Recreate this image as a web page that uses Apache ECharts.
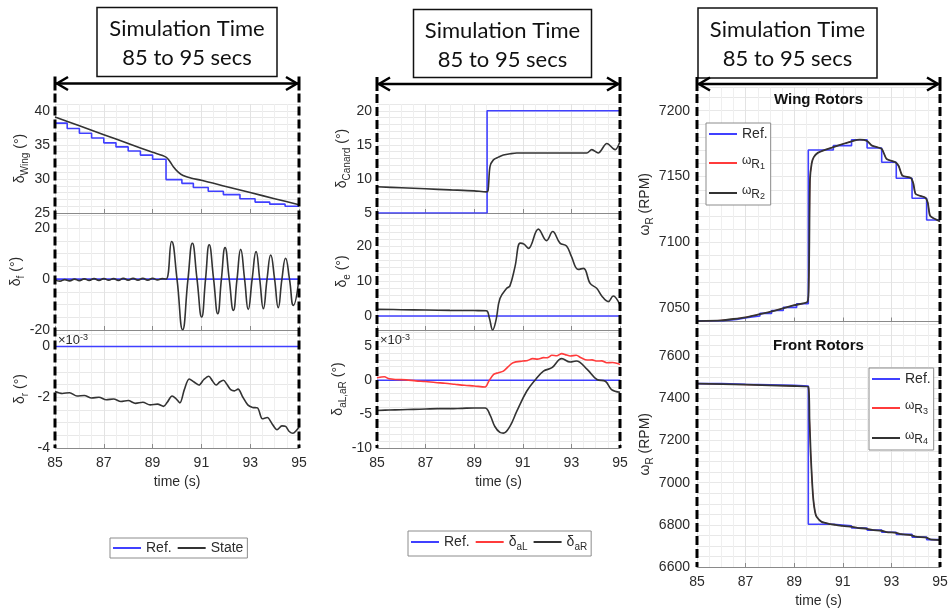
<!DOCTYPE html>
<html><head><meta charset="utf-8">
<script src="https://cdn.jsdelivr.net/npm/echarts@6.0.0/dist/echarts.min.js"></script>
<style>html,body{margin:0;padding:0;background:#fff}#c{width:951px;height:612px}</style>
</head><body><div id="c"></div>
<script>
// ---------------- data (time in s) ----------------
const timeTickLabels = [85, 87, 89, 91, 93, 95];

// Left column
const wingRef = [[85,38.2],[85.5,37.4],[86,36.7],[86.5,36.0],[87,35.3],[87.5,34.7],[88,34.1],[88.5,33.5],[89,32.9],[89.55,29.9],[90.2,29.35],[90.67,28.75],[91.28,28.2],[91.9,27.7],[92.58,27.1],[93.2,26.6],[93.8,26.3],[94.43,26.0],[95,26.0]];
const wingState = [[85,39.1],[86,37.8],[87,36.5],[88,35.2],[89,33.9],[89.55,33.2],[89.7,32.6],[89.85,31.8],[90.05,31.0],[90.25,30.5],[90.6,30.1],[91,29.8],[92,28.9],[93,28.0],[94,27.1],[95,26.2]];
const flapRef = [[85,0],[95,0]];
const flapState = [[85,-0.3],[85.2,-0.8],[85.4,-0.2],[85.6,-0.7],[85.8,0],[86.0,-0.6],[86.2,0.1],[86.4,-0.5],[86.6,0.2],[86.8,-0.5],[87.0,0.2],[87.2,-0.4],[87.4,0.2],[87.6,-0.5],[87.8,0.3],[88.0,-0.4],[88.2,0.3],[88.4,-0.4],[88.6,0.3],[88.8,-0.4],[89.0,0.3],[89.2,-0.3],[89.4,0.2],[89.55,0],
  [89.78,14.8],[90.0,0],[90.23,-19.9],[90.45,0],[90.63,14.1],[90.82,0],[91.01,-14.9],[91.17,0],[91.32,13.5],[91.5,0],[91.67,-13.6],[91.82,0],[91.97,12.4],[92.14,0],[92.31,-12.3],[92.46,0],[92.61,11.7],[92.77,0],[92.92,-11.9],[93.08,0],[93.24,10.8],[93.39,0],[93.54,-11.6],[93.69,0],[93.84,9.5],[94.0,0],[94.15,-11.2],[94.3,0],[94.45,8.2],[94.61,0],[94.77,-10.3],[95,0.3]];
const rudderRef = [[85,0],[95,0]]; // x10^-3
const rudderState = [[85,-1.77],[85.3,-1.85],[85.6,-1.82],[85.9,-1.95],[86.2,-1.93],[86.5,-2.03],[86.8,-2.0],[87.1,-2.1],[87.4,-2.07],[87.7,-2.17],[88.0,-2.13],[88.3,-2.24],[88.6,-2.2],[88.9,-2.3],[89.2,-2.27],[89.45,-2.36],[89.6,-2.2],[89.8,-1.95],[89.95,-2.05],[90.12,-2.22],[90.3,-1.7],[90.5,-1.28],[90.7,-1.4],[90.9,-1.52],[91.1,-1.3],[91.3,-1.17],[91.45,-1.35],[91.6,-1.52],[91.75,-1.4],[91.9,-1.33],[92.05,-1.5],[92.2,-1.7],[92.35,-1.75],[92.5,-1.68],[92.7,-2.0],[92.9,-2.3],[93.1,-2.4],[93.3,-2.42],[93.5,-2.85],[93.7,-2.8],[93.9,-3.05],[94.1,-3.28],[94.3,-3.13],[94.45,-3.15],[94.6,-3.35],[94.75,-3.42],[94.9,-3.3],[95,-3.17]];

// Middle column
const canardRef = [[85,5],[89.53,20],[95,20]];
const canardState = [[85,8.85],[86,8.7],[87,8.55],[88,8.4],[89,8.25],[89.5,8.1],[89.57,8.3],[89.65,11.8],[89.79,12.8],[90.0,13.2],[90.2,13.5],[90.5,13.7],[90.75,13.8],[92,13.8],[93.63,13.8],[93.84,14.3],[94.1,13.8],[94.46,15.2],[94.8,14.3],[95,15.5]];
const elevRef = [[85,0],[95,0]];
const elevState = [[85,1.9],[86,1.8],[87,1.7],[88,1.6],[89,1.55],[89.5,1.5],[89.62,-0.5],[89.76,-4.0],[89.9,-1.1],[90.06,5.0],[90.34,7.9],[90.47,8.6],[90.68,14.1],[90.89,20.8],[91.05,20.5],[91.23,19.3],[91.64,24.8],[91.98,21.5],[92.23,24.1],[92.53,20.8],[92.8,20],[93.0,17],[93.28,13.3],[93.5,13.6],[93.77,9.3],[94.04,7.9],[94.25,5.7],[94.52,4.1],[94.72,5.7],[95,3.1]];
const aileronRef = [[85,0],[95,0]]; // x10^-3
const aileronL = [[85,0.36],[85.3,0.5],[85.5,0.2],[85.8,0.1],[86.2,0.05],[86.6,-0.1],[87,-0.2],[87.4,-0.35],[87.8,-0.45],[88.2,-0.6],[88.6,-0.75],[89,-0.85],[89.45,-1.0],[89.6,-0.15],[89.8,0.85],[90.0,1.1],[90.2,1.34],[90.4,2.0],[90.6,2.58],[91.0,2.82],[91.2,2.9],[91.4,3.18],[91.6,3.1],[91.85,3.33],[92.0,3.3],[92.2,3.67],[92.4,3.6],[92.6,3.92],[92.8,3.7],[92.95,3.57],[93.2,3.67],[93.4,3.3],[93.65,2.97],[93.85,3.0],[94.05,2.82],[94.25,2.85],[94.45,2.58],[94.7,2.6],[95,2.33]];
const aileronR = [[85,-4.46],[85.5,-4.4],[86,-4.35],[86.5,-4.3],[87,-4.25],[87.5,-4.2],[88,-4.2],[88.5,-4.15],[89,-4.1],[89.45,-4.1],[89.65,-5.1],[89.85,-6.83],[90.06,-7.7],[90.2,-7.8],[90.47,-6.8],[90.75,-4.6],[91.16,-1.63],[91.5,0],[91.85,1.34],[92.2,1.84],[92.6,3.18],[92.95,2.68],[93.2,2.82],[93.65,1.59],[94.05,0.1],[94.4,-0.15],[94.65,-1.38],[95,-1.78]];

// Right column (RPM)
const wingRotorRef = [[85,7040.6],[86.08,7041.5],[86.63,7042.8],[87.04,7044.2],[87.59,7046.2],[88.07,7048.3],[88.55,7050.7],[89.1,7053.5],[89.58,7170.2],[90.61,7173.5],[91.36,7178],[92.0,7171.7],[92.6,7160.9],[93.2,7148.7],[93.85,7133.5],[94.45,7117],[95,7117]];
const wingRotorState = [[85,7040.3],[86,7040.9],[86.5,7041.9],[87,7043.2],[87.5,7045.2],[88,7047.3],[88.5,7049.8],[89,7052.4],[89.55,7055],[89.6,7070],[89.62,7097],[89.65,7148],[89.72,7160],[89.8,7164.6],[89.97,7168],[90.3,7170.5],[90.55,7172],[91.1,7175.3],[91.4,7177],[91.7,7178],[92.0,7177],[92.2,7173.5],[92.6,7171],[92.8,7163.4],[93.15,7161],[93.3,7158],[93.45,7150.7],[93.8,7149],[93.9,7145],[94.0,7136.8],[94.4,7134],[94.5,7130],[94.6,7120],[95,7116]];
const frontRotorRef = [[85,7470],[86,7467],[87,7465],[88,7462],[89,7459],[89.58,6803],[90.61,6795],[91.36,6785],[92.0,6775],[92.6,6765],[93.2,6755],[93.85,6742],[94.45,6730],[95,6730]];
const frontRotorState = [[85,7470],[87,7465],[89,7459],[89.58,7455],[89.63,7300],[89.68,7138],[89.74,7000],[89.79,6917],[89.86,6860],[89.93,6837],[90.13,6814],[90.48,6804],[90.7,6800],[91.0,6795],[91.4,6790],[91.6,6786],[92.0,6781],[92.2,6776],[92.6,6772],[92.8,6766],[93.2,6762],[93.4,6756],[93.8,6751],[94.0,6744],[94.45,6739],[94.6,6731],[95,6728]];

// ---------------- styles / layout ----------------
const FF = '"Liberation Sans", Arial, Helvetica, sans-serif';
const HF = 'Lato, "Open Sans", sans-serif';
const C_REF = '#4040ff', C_STATE = '#333333', C_RED = '#ff3b3b', TXT = '#2b2b2b';

const grids = [
  {left:55, top:104, width:244, height:109},
  {left:55, top:213, width:244, height:117},
  {left:55, top:330, width:244, height:118},
  {left:377, top:104, width:243, height:109},
  {left:377, top:213, width:243, height:117},
  {left:377, top:330, width:243, height:118},
  {left:697, top:87, width:243, height:234.5},
  {left:697, top:321.5, width:243, height:245.5}
].map(g => Object.assign({outerBoundsMode:'none', containLabel:false}, g));

const nameRich = {
  g:{fontSize:14, fontFamily:FF, color:TXT, lineHeight:20, verticalAlign:'middle'},
  w:{fontSize:14, fontFamily:FF, color:TXT, lineHeight:20, verticalAlign:'middle'},
  s:{fontSize:10, fontFamily:FF, color:TXT, lineHeight:10, verticalAlign:'bottom'},
  n:{fontSize:14, fontFamily:FF, color:TXT, lineHeight:20, verticalAlign:'middle'}
};

function isMajor(v, m){ return Math.abs(v/m - Math.round(v/m)) < 1e-6; }

function xAx(i, bottom){
  const ax = {
    type:'value', gridIndex:i, min:85, max:95, interval:2,
    axisLine:{show:true, onZero:false, lineStyle:{color:'#8a8a8a', width:1}},
    axisTick:{show:true, inside:true, length:4, lineStyle:{color:'#8a8a8a'}},
    axisLabel:{show:bottom, margin:8, fontSize:14, color:TXT, fontFamily:FF,
      formatter: v => timeTickLabels.indexOf(Math.round(v)) >= 0 ? String(Math.round(v)) : ''},
    splitLine:{show:true, lineStyle:{color:'#e3e3e3', width:1}},
    minorTick:{show:false, splitNumber:4},
    minorSplitLine:{show:true, lineStyle:{color:'#efefef', width:1}}
  };
  if (bottom){
    ax.name = 'time (s)'; ax.nameLocation = 'middle'; ax.nameGap = 27;
    ax.nameTextStyle = {fontSize:14, color:TXT, fontFamily:FF};
  }
  return ax;
}
function yAx(i, min, max, step, major, name, gap, margin){
  return {
    type:'value', gridIndex:i, min:min, max:max, interval:step,
    axisLine:{show:false}, axisTick:{show:false},
    axisLabel:{show:true, margin:margin, fontSize:14, color:TXT, fontFamily:FF,
      formatter: v => isMajor(v, major) ? String(Math.round(v*1000)/1000) : ''},
    splitLine:{show:true, lineStyle:{color:'#e8e8e8', width:1}},
    name:name, nameLocation:'middle', nameRotate:90, nameGap:gap,
    nameTextStyle:{color:TXT, fontFamily:FF, fontSize:14, rich:nameRich}
  };
}

const xAxes = [0,1,2,3,4,5,6,7].map(i => xAx(i, i===2 || i===5 || i===7));
const yAxes = [
  yAx(0, 25, 41, 1, 5, '{g|δ}{s|Wing}{n| (°)}', 25, 5),
  yAx(1, -20, 26, 5, 20, '{g|δ}{s|f}{n| (°)}', 25, 5),
  yAx(2, -4, 0.65, 0.5, 2, '{g|δ}{s|r}{n| (°)}', 25, 5),
  yAx(3, 5, 21, 1, 5, '{g|δ}{s|Canard}{n| (°)}', 23, 5),
  yAx(4, -4, 29.4, 2, 10, '{g|δ}{s|e}{n| (°)}', 23, 5),
  yAx(5, -10, 7.4, 1, 5, '{g|δ}{s|aL,aR}{n| (°)}', 23, 5),
  yAx(6, 7040, 7218, 10, 50, '{w|ω}{s|R}{n| (RPM)}', 35, 7),
  yAx(7, 6600, 7765, 50, 200, '{w|ω}{s|R}{n| (RPM)}', 35, 7)
];

function line(i, name, data, color, extra, width){
  return Object.assign({
    type:'line', name:name, xAxisIndex:i, yAxisIndex:i, data:data,
    symbol:'none', showSymbol:false, lineStyle:{color:color, width:width || 1.6},
    itemStyle:{color:color}, emphasis:{disabled:true}, z:3
  }, extra || {});
}

const series = [
  line(0,'Ref.',wingRef,C_REF,{step:'end'}),
  line(0,'State',wingState,C_STATE,{smooth:0.3}),
  line(1,'Ref.',flapRef,C_REF),
  line(1,'State',flapState,C_STATE,{smooth:0.5}),
  line(2,'Ref.',rudderRef,C_REF),
  line(2,'State',rudderState,C_STATE,{smooth:0.3}),
  line(3,'Ref.',canardRef,C_REF,{step:'end'}),
  line(3,'State',canardState,C_STATE,{smooth:0.3}),
  line(4,'Ref.',elevRef,C_REF),
  line(4,'State',elevState,C_STATE,{smooth:0.4}),
  line(5,'Ref.',aileronRef,C_REF),
  line(5,'δaL',aileronL,C_RED,{smooth:0.3}),
  line(5,'δaR',aileronR,C_STATE,{smooth:0.4}),
  line(6,'Ref.',wingRotorRef,C_REF,{step:'end'}),
  line(6,'ωR1',wingRotorState,C_RED,{smooth:0.2, z:2}, 1.0),
  line(6,'ωR2',wingRotorState,C_STATE,{smooth:0.2}, 1.8),
  line(7,'Ref.',frontRotorRef,C_REF,{step:'end'}),
  line(7,'ωR3',frontRotorState,C_RED,{smooth:0.2, z:2}, 1.0),
  line(7,'ωR4',frontRotorState,C_STATE,{smooth:0.2}, 1.8)
];

function legendFmt(name){
  if (name === 'δaL') return '{g|δ}{s|aL}';
  if (name === 'δaR') return '{g|δ}{s|aR}';
  const m = /^ωR(\d)$/.exec(name);
  if (m) return '{w|ω}{r|R}{n|' + m[1] + '}';
  return '{t|' + name + '}';
}
function legRich(lh){
  return {
    t:{fontSize:14, fontFamily:FF, color:TXT, lineHeight:lh},
    g:{fontSize:14, fontFamily:FF, color:TXT, lineHeight:lh, verticalAlign:'middle'},
    s:{fontSize:10, fontFamily:FF, color:TXT, lineHeight:10, verticalAlign:'bottom'},
    w:{fontSize:12, fontFamily:FF, color:TXT, lineHeight:16, verticalAlign:'top'},
    r:{fontSize:12, fontFamily:FF, color:TXT, lineHeight:16, verticalAlign:'bottom'},
    n:{fontSize:9, fontFamily:FF, color:TXT, lineHeight:9, verticalAlign:'bottom'}
  };
}
function legend(names, pos, orient, lh, pad, gap){
  return Object.assign({
    data:names, orient:orient, itemWidth:28, itemHeight:2, itemGap:gap, icon:'rect',
    formatter:legendFmt, selectedMode:false,
    textStyle:{fontSize:14, fontFamily:FF, color:TXT, rich:legRich(lh)},
    backgroundColor:'#ffffff', borderColor:'#8c8c8c', borderWidth:1, borderRadius:0,
    padding:pad
  }, pos);
}
const legends = [
  legend(['Ref.','State'], {left:110, top:538}, 'horizontal', 16, [3,4,3,3], 6),
  legend(['Ref.','δaL','δaR'], {left:408, top:531}, 'horizontal', 20, [4,4,4,3], 6),
  legend(['Ref.','ωR1','ωR2'], {left:706, top:123}, 'vertical', 22, [4,3,4,3], 14),
  legend(['Ref.','ωR3','ωR4'], {left:869, top:368}, 'vertical', 22, [4,3,4,3], 14)
];

// header boxes, arrows, dashed range markers
const headers = [
  {box:[97,7.5,180,69], cx:187, x1:55, x2:299, ay:83.5, bottom:448},
  {box:[413.5,9.5,178,68], cx:502.5, x1:377, x2:620, ay:84, bottom:448},
  {box:[698,8,179,70], cx:787.5, x1:697, x2:940, ay:84, bottom:567}
];
const graphic = [];
headers.forEach(h => {
  graphic.push({type:'rect', z:100, shape:{x:h.box[0], y:h.box[1], width:h.box[2], height:h.box[3]},
    style:{fill:'#fff', stroke:'#111', lineWidth:1.5}});
  graphic.push({type:'text', z:101, x:h.cx, y:h.box[1]+21.5, style:{text:'Simulation Time', align:'center', verticalAlign:'middle', font:'22px ' + HF, fill:'#111'}});
  graphic.push({type:'text', z:101, x:h.cx, y:h.box[1]+50.5, style:{text:'85 to 95 secs', align:'center', verticalAlign:'middle', font:'22px ' + HF, fill:'#111'}});
  graphic.push({type:'line', z:100, shape:{x1:h.x1+1, y1:h.ay, x2:h.x2-1, y2:h.ay}, style:{stroke:'#000', lineWidth:2.5}});
  graphic.push({type:'polyline', z:100, shape:{points:[[h.x1+13,h.ay-6.5],[h.x1+2,h.ay],[h.x1+13,h.ay+6.5]]}, style:{stroke:'#000', lineWidth:2.5, fill:null}});
  graphic.push({type:'polyline', z:100, shape:{points:[[h.x2-13,h.ay-6.5],[h.x2-2,h.ay],[h.x2-13,h.ay+6.5]]}, style:{stroke:'#000', lineWidth:2.5, fill:null}});
  [h.x1, h.x2].forEach(x => {
    graphic.push({type:'line', z:100, shape:{x1:x, y1:h.ay-7, x2:x, y2:h.ay+7}, style:{stroke:'#000', lineWidth:3}});
    graphic.push({type:'line', z:100, shape:{x1:x, y1:h.ay+10, x2:x, y2:h.bottom}, style:{stroke:'#000', lineWidth:3, lineDash:[9,4]}});
  });
});
const expRich = {a:{fontSize:13, fontFamily:FF, fill:TXT}, b:{fontSize:9, fontFamily:FF, fill:TXT, verticalAlign:'top'}};
graphic.push({type:'text', z:101, x:58, y:340, style:{text:'{a|×10}{b|-3}', rich:expRich, verticalAlign:'middle', align:'left'}});
graphic.push({type:'text', z:101, x:380, y:340, style:{text:'{a|×10}{b|-3}', rich:expRich, verticalAlign:'middle', align:'left'}});
graphic.push({type:'text', z:101, x:818.5, y:100, style:{text:'Wing Rotors', align:'center', verticalAlign:'middle', font:'bold 15px ' + FF, fill:'#111'}});
graphic.push({type:'text', z:101, x:818.5, y:346, style:{text:'Front Rotors', align:'center', verticalAlign:'middle', font:'bold 15px ' + FF, fill:'#111'}});

const chart = echarts.init(document.getElementById('c'), null, {renderer:'canvas'});
chart.setOption({
  animation:false,
  backgroundColor:'#ffffff',
  grid:grids, xAxis:xAxes, yAxis:yAxes, series:series, legend:legends, graphic:graphic
});
</script>
</body></html>
